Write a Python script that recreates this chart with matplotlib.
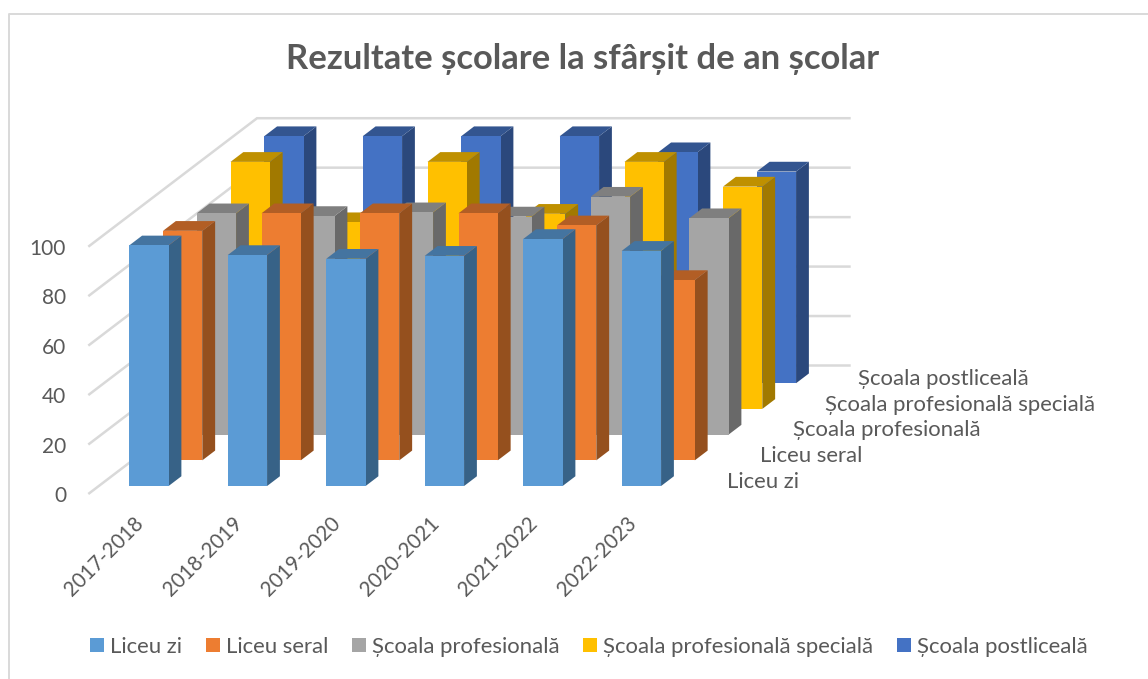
import matplotlib
matplotlib.use("Agg")
import matplotlib.pyplot as plt
from matplotlib.lines import Line2D
from matplotlib.patches import Polygon
from matplotlib.transforms import ScaledTranslation

plt.rcParams['font.family'] = ['Lato', 'DejaVu Sans']

categories = ['2017-2018', '2018-2019', '2019-2020', '2020-2021', '2021-2022', '2022-2023']
series_names = ['Liceu zi', 'Liceu seral', 'Școala profesională',
                'Școala profesională specială', 'Școala postliceală']
liceu_zi = [97.3, 93.4, 91.9, 93.1, 99.9, 95.1]
liceu_seral = [92.8, 99.9, 99.9, 99.9, 95.0, 72.9]
scoala_prof = [89.5, 88.4, 89.9, 88.2, 96.2, 87.5]
scoala_spec = [99.9, 75.5, 99.9, 78.9, 99.9, 89.9]
scoala_post = [99.9, 99.9, 99.9, 99.9, 93.4, 85.6]
all_values = [liceu_zi, liceu_seral, scoala_prof, scoala_spec, scoala_post]
yticks = [0, 20, 40, 60, 80, 100]

front_colors = ['#5B9BD5', '#ED7D31', '#A5A5A5', '#FFC000', '#4472C4']
side_colors = ['#376287', '#95501E', '#696969', '#A17900', '#2B487C']
top_colors = ['#4474A0', '#B25E25', '#7F7F7F', '#BF9000', '#335590']

W, H = 1148, 679
PX_CAT = 98.5
PX_VAL = 2.473
DX = 33.75 / PX_CAT      # shift in category units per series in depth
DY = 25.7 / PX_VAL       # shift in value units per series in depth
BAR_W = 39.3 / PX_CAT
BAR_NUDGE = 0.9 / PX_CAT
D_FRONT, D_BACK = 0.31, 0.69
GRID = '#D9D9D9'
TXT = '#595959'

fig = plt.figure(figsize=(W / 100, H / 100), dpi=100, facecolor='white')
L, R, T, B = 88.3, 850.7, 118.3, 494.0
ax = fig.add_axes([L / W, 1 - B / H, (R - L) / W, (B - T) / H])
ax.set_xlim(-0.5, -0.5 + (R - L) / PX_CAT)
ax.set_ylim(0, (B - T) / PX_VAL)
ax.patch.set_visible(False)
for s in ax.spines.values():
    s.set_visible(False)

# walls: gridlines
n_depth = len(series_names)
x_front = -0.5
x_back = x_front + n_depth * DX
xmax = ax.get_xlim()[1]
for v in yticks:
    ax.plot([x_front, x_back, xmax], [v, v + n_depth * DY, v + n_depth * DY],
            color=GRID, lw=1.8, zorder=1, solid_capstyle='butt', solid_joinstyle='miter', clip_on=False)

# bars, back to front
for i in range(n_depth - 1, -1, -1):
    vals = all_values[i]
    z = 10 + (n_depth - i) * 3
    sx0 = (i + D_FRONT) * DX + BAR_NUDGE
    sx1 = (i + D_BACK) * DX + BAR_NUDGE
    sy0 = (i + D_FRONT) * DY
    sy1 = (i + D_BACK) * DY
    centers = [c + sx0 for c in range(len(categories))]
    ax.bar(centers, vals, width=BAR_W, bottom=sy0, color=front_colors[i],
           label=series_names[i], linewidth=0, zorder=z + 1)
    for c, v in enumerate(vals):
        xl = c + sx0 - BAR_W / 2
        xr = c + sx0 + BAR_W / 2
        xl2 = c + sx1 - BAR_W / 2
        xr2 = c + sx1 + BAR_W / 2
        ax.add_patch(Polygon([(xr, sy0), (xr2, sy1), (xr2, sy1 + v), (xr, sy0 + v)],
                             closed=True, fc=side_colors[i], ec='none', zorder=z))
        ax.add_patch(Polygon([(xl, sy0 + v), (xl2, sy1 + v), (xr2, sy1 + v), (xr, sy0 + v)],
                             closed=True, fc=top_colors[i], ec='none', zorder=z))

    # depth-axis label
    ax.annotate(series_names[i], xy=(len(categories) - 0.5 + (i + 0.5) * DX, (i + 0.5) * DY),
                xytext=((31 - i) * 0.72, -0.5), textcoords='offset points',
                ha='left', va='center', fontsize=15.9, color=TXT, annotation_clip=False)

ax.set_yticks(yticks)
ax.set_yticklabels([str(v) for v in yticks], fontsize=15, color=TXT)
ax.tick_params(axis='y', length=0, pad=16)
ax.set_xticks(range(len(categories)))
ax.set_xticklabels(categories, rotation=45, ha='right', rotation_mode='anchor',
                   fontsize=14.8, color=TXT)
ax.tick_params(axis='x', length=0, pad=14)
shift = ScaledTranslation(-4 / 100, 0, fig.dpi_scale_trans)
for lab in ax.get_xticklabels():
    lab.set_transform(lab.get_transform() + shift)

fig.text(583 / W, 1 - 59 / H, 'Rezultate școlare la sfârșit de an școlar',
         ha='center', va='center', fontsize=24.9, fontweight='bold', color=TXT)

# legend in series order
handles, labels = ax.get_legend_handles_labels()
order = [labels.index(n) for n in series_names]
leg = fig.legend([handles[k] for k in order], [labels[k] for k in order],
                 loc='center', bbox_to_anchor=(589 / W, 1 - 647 / H), ncol=5,
                 frameon=False, fontsize=15.9, handlelength=0.63, handleheight=0.59,
                 handletextpad=0.29, columnspacing=1.06, labelcolor=TXT,
                 borderpad=0, borderaxespad=0)

# chart frame edges visible in the crop
fig.add_artist(Line2D([9 / W, 9 / W, 1], [0, 1 - 13.5 / H, 1 - 13.5 / H],
                      color=GRID, lw=1.4, transform=fig.transFigure))

fig.savefig('out.png', dpi=100, facecolor='white')
